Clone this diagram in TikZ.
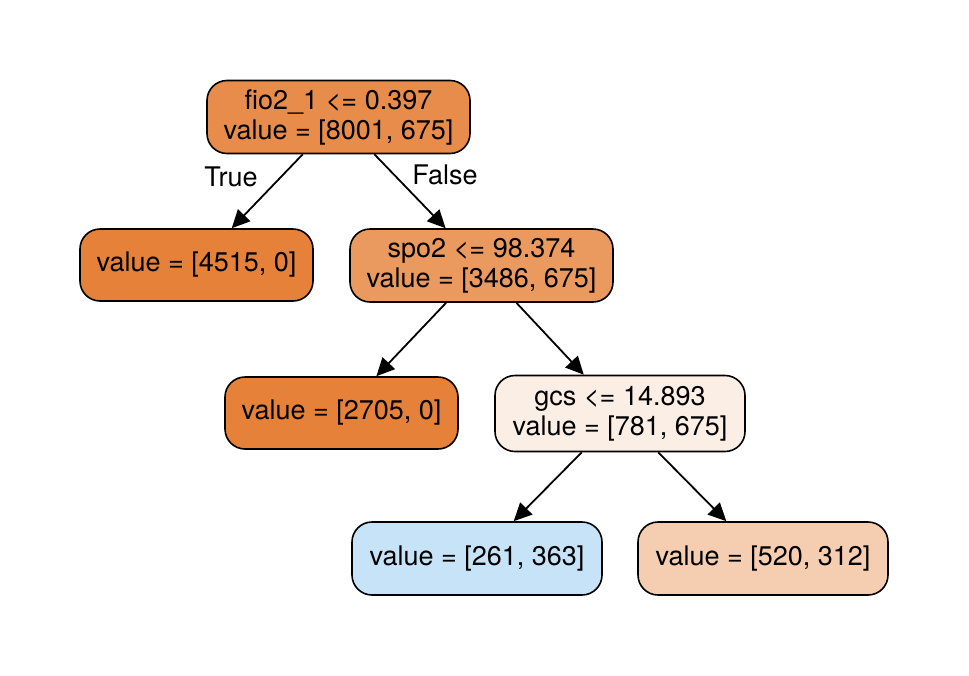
\documentclass[tikz,border=0pt]{standalone}
\usepackage{fontspec}
\setmainfont{TeX Gyre Heros}
\usetikzlibrary{arrows.meta}
\definecolor{cRoot}{RGB}{231,140,74}
\definecolor{cFull}{RGB}{229,129,57}
\definecolor{cSpo}{RGB}{234,153,95}
\definecolor{cGcs}{RGB}{251,238,228}
\definecolor{cBlue}{RGB}{199,227,248}
\definecolor{cPeach}{RGB}{245,205,176}
\begin{document}
\begin{tikzpicture}[x=1pt,y=1pt,
  treenode/.style={draw=black, line width=1.6pt, rounded corners=20pt, align=center,
    font=\fontsize{27}{30}\selectfont, inner sep=0pt},
  wide/.style={minimum width=263pt, minimum height=73pt},
  narrow/.style={minimum width=250pt, minimum height=73pt},
  leafw/.style={minimum width=233pt, minimum height=72pt},
  edge/.style={line width=1.8pt, -{Triangle[length=18pt,width=17pt]}},
  elabel/.style={font=\fontsize{27}{30}\selectfont}]
\useasboundingbox (0,0) rectangle (969,-675);
\node[treenode, wide, fill=cRoot] (root) at (338.5,-117) {fio2\_1 <= 0.397\\value = [8001, 675]};
\node[treenode, leafw, fill=cFull] (l1) at (196.5,-265) {value = [4515, 0]};
\node[treenode, wide, fill=cSpo] (spo) at (481.5,-265.5) {spo2 <= 98.374\\value = [3486, 675]};
\node[treenode, leafw, fill=cFull] (l2) at (341.5,-413) {value = [2705, 0]};
\node[treenode, narrow, minimum height=76pt, fill=cGcs] (gcs) at (620,-413.5) {gcs <= 14.893\\value = [781, 675]};
\node[treenode, narrow, fill=cBlue] (l3) at (477,-558.5) {value = [261, 363]};
\node[treenode, narrow, fill=cPeach] (l4) at (763,-558.5) {value = [520, 312]};
\draw[edge] (root) -- (l1);
\draw[edge] (root) -- (spo);
\draw[edge] (spo) -- (l2);
\draw[edge] (spo) -- (gcs);
\draw[edge] (gcs) -- (l3);
\draw[edge] (gcs) -- (l4);
\node[elabel] (tlab) at (231,-177) {True};
\node[elabel] (flab) at (445,-175) {False};
\end{tikzpicture}
\end{document}
